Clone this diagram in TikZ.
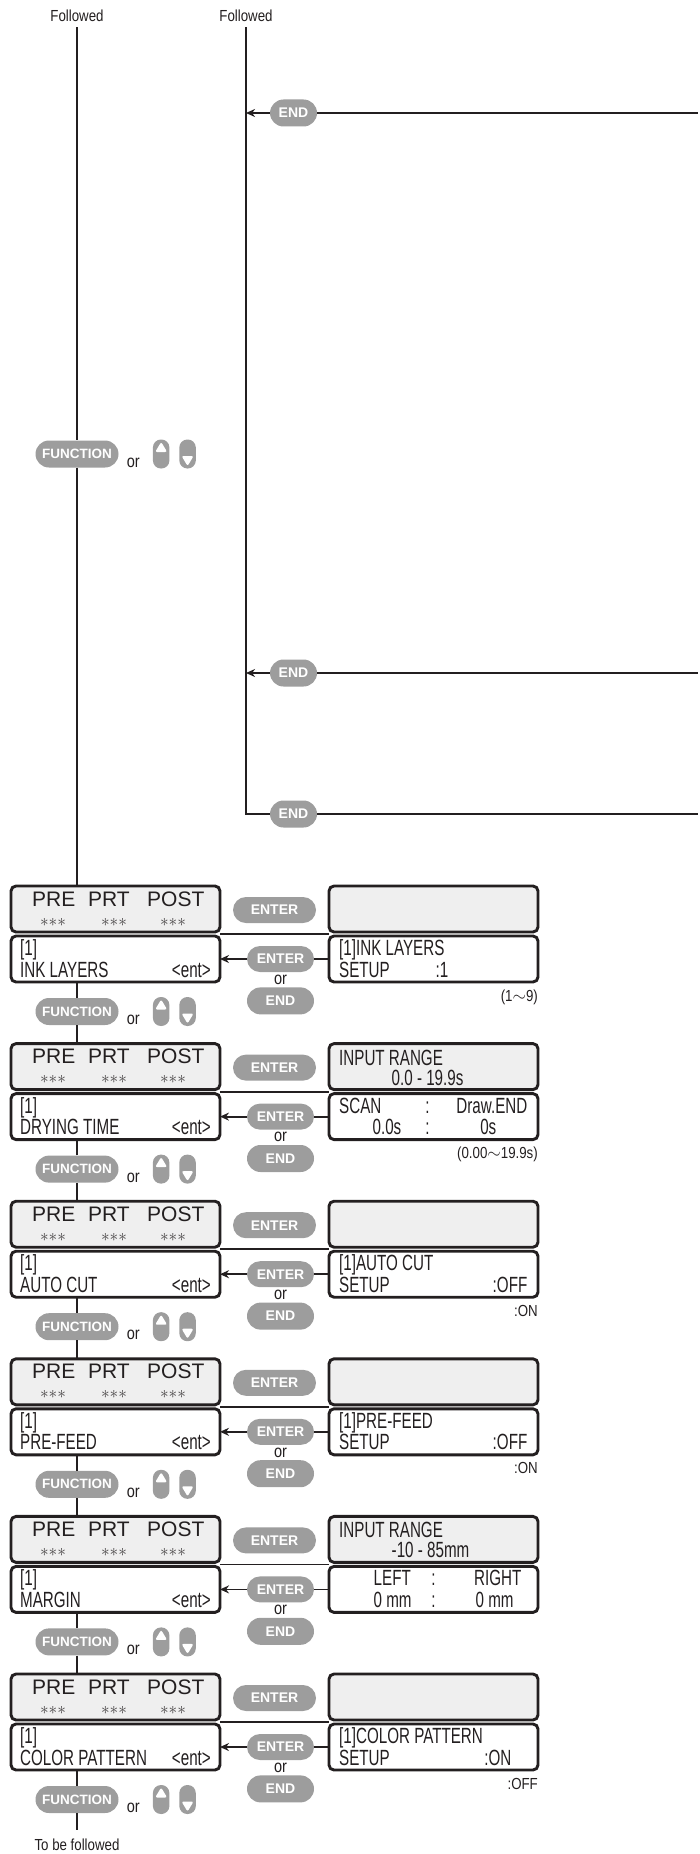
\documentclass[tikz,border=0pt]{standalone}
\usepackage{fontspec}
\setmainfont{Liberation Sans}
\newfontfamily\condfont[FakeStretch=0.69]{Liberation Sans}
\newfontfamily\labfont[FakeStretch=0.83]{Liberation Sans}
\usetikzlibrary{positioning,arrows.meta,shapes.misc}
\definecolor{ink}{RGB}{35,31,32}
\definecolor{keygray}{RGB}{157,157,157}
\definecolor{lcdgray}{RGB}{239,239,239}

\begin{document}
\begin{tikzpicture}[x=1pt, y=-1pt,
    flow/.style={draw=ink, line width=1.8pt},
    arr/.style={flow, -{Stealth[length=9pt, width=8pt]}},
    panel/.style={draw=ink, line width=2.9pt, rounded corners=5pt, fill=white, minimum width=209pt, minimum height=46pt, inner sep=0pt, outer sep=0pt},
    lcd/.style={panel, fill=lcdgray},
    key/.style={rounded rectangle, fill=keygray, text=white, font=\bfseries\fontsize{14}{14}\selectfont, minimum height=26pt, inner sep=0pt},
    fnkey/.style={key, minimum width=83pt, minimum height=27pt, font=\bfseries\fontsize{13.5}{13.5}\selectfont},
    updown/.style={fill=keygray, rounded corners=8pt, minimum width=16.5pt, minimum height=29pt, inner sep=0pt},
    big/.style={font=\fontsize{21}{21}\selectfont, text=ink, inner sep=0pt, anchor=base west},
    lcdtxt/.style={font=\condfont\fontsize{22}{22}\selectfont, text=ink, inner sep=0pt, anchor=base west},
    small/.style={font=\labfont\fontsize{16}{16}\selectfont, text=ink, inner sep=0pt},
    ortxt/.style={small, font=\labfont\fontsize{17.5}{17.5}\selectfont},
    stars/.style={text=ink!85, inner sep=0pt, font=\fontsize{17}{17}\selectfont}
]
\useasboundingbox (0,0) rectangle (699,1854);

% top of the two flows
\node[small, anchor=base, inner ysep=5pt] (fol1) at (77,22) {Followed};
\node[small, anchor=base, inner ysep=5pt] (fol2) at (246,22) {Followed};
\coordinate (rim) at (698,0);

\node[fnkey] (fn0) at (77,454) {FUNCTION};
\node[ortxt, anchor=base west] (orf0) at ([shift={(8,13)}]fn0.east) {or};
\node[updown, right=34pt of fn0] (up0) {};
\node[updown, right=9.5pt of up0] (dn0) {};
\fill[white, rounded corners=2pt] ([shift={(0,-12)}]up0.center) -- ([shift={(6,-2)}]up0.center) -- ([shift={(-6,-2)}]up0.center) -- cycle;
\fill[white, rounded corners=2pt] ([shift={(0,12)}]dn0.center) -- ([shift={(6,2)}]dn0.center) -- ([shift={(-6,2)}]dn0.center) -- cycle;
\draw[flow] (fol1.south) -- (fn0.north);

\node[key, minimum width=47pt, minimum height=27pt] (e1) at (293.5,113) {END};
\node[key, minimum width=47pt, minimum height=27pt] (e2) at (293.5,673) {END};
\node[key, minimum width=47pt, minimum height=27pt] (e3) at (293.5,814) {END};
\draw[flow] (e1.east) -- (e1.east -| rim);
\draw[arr] (e1.west) -- (e1.west -| fol2.south);
\draw[flow] (e2.east) -- (e2.east -| rim);
\draw[arr] (e2.west) -- (e2.west -| fol2.south);
\draw[flow] (fol2.south) -- (fol2.south |- e3.west) -- (e3.west);
\draw[flow] (e3.east) -- (e3.east -| rim);

% the six setting blocks
\foreach \i/\lbl in {1/INK LAYERS,2/DRYING TIME,3/AUTO CUT,4/PRE-FEED,5/MARGIN,6/COLOR PATTERN}{
  \pgfmathsetmacro\ty{885+(\i-1)*157.6}
  \pgfmathtruncatemacro\prev{\i-1}
  \node[lcd] (lu\i) at (115.5,\ty+24) {};
  \node[panel] (ll\i) at (115.5,\ty+74) {};
  \node[lcd] (ru\i) at (433.5,\ty+24) {};
  \node[panel] (rl\i) at (433.5,\ty+74) {};
  \node[big] (pre\i) at ([shift={(21,20)}]lu\i.north west) {PRE};
  \node[big] (prt\i) at ([shift={(77,20)}]lu\i.north west) {PRT};
  \node[big] (post\i) at ([shift={(136,20)}]lu\i.north west) {POST};
  \node[stars] (sa\i) at ([shift={(42,36)}]lu\i.north west) {${\ast}{\ast}{\ast}$};
  \node[stars] (sb\i) at ([shift={(103,36)}]lu\i.north west) {${\ast}{\ast}{\ast}$};
  \node[stars] (sc\i) at ([shift={(162,36)}]lu\i.north west) {${\ast}{\ast}{\ast}$};
  \node[lcdtxt] (idx\i) at ([shift={(9,19.5)}]ll\i.north west) {[1]};
  \node[lcdtxt] (nm\i) at ([shift={(9,41)}]ll\i.north west) {\lbl};
  \node[lcdtxt, anchor=base east] (ent\i) at ([shift={(-9,41)}]ll\i.north east) {<ent>};
  \node[key, minimum width=83pt] (enu\i) at (274.5,\ty+25) {ENTER};
  \node[key, minimum width=67pt] (enl\i) at (280.5,\ty+74) {ENTER};
  \node[ortxt, below=2.5pt of enl\i] (or\i) {or};
  \node[key, minimum width=67pt, minimum height=27pt, below=2.5pt of or\i] (end\i) {END};
  \node[fnkey] (fn\i) at (77,\ty+126.5) {FUNCTION};
  \node[ortxt, anchor=base west] (orf\i) at ([shift={(8,13)}]fn\i.east) {or};
  \node[updown, right=34pt of fn\i] (up\i) {};
  \node[updown, right=9.5pt of up\i] (dn\i) {};
  \fill[white, rounded corners=2pt] ([shift={(0,-12)}]up\i.center) -- ([shift={(6,-2)}]up\i.center) -- ([shift={(-6,-2)}]up\i.center) -- cycle;
  \fill[white, rounded corners=2pt] ([shift={(0,12)}]dn\i.center) -- ([shift={(6,2)}]dn\i.center) -- ([shift={(-6,2)}]dn\i.center) -- cycle;
  \draw[flow] (fn\prev.south) -- (fn\prev.south |- lu\i.north);
  \draw[flow] (fn\i.north) -- (fn\i.north |- ll\i.south);
  \draw[flow] ([yshift=-2pt]lu\i.south east) -- ([yshift=-2pt]ru\i.south west);
  \draw[flow] (rl\i.west) -- (enl\i.east);
  \draw[arr] (enl\i.west) -- (enl\i.west -| ll\i.east);
}

\node[small, anchor=base, inner ysep=8pt] (tbf) at (77,1850) {To be followed};
\draw[flow] (fn6.south) -- (tbf.north);

% right panels
\node[lcdtxt] (r1a) at ([shift={(10,19.5)}]rl1.north west) {[1]INK LAYERS};
\node[lcdtxt] (r1b) at ([shift={(10,41)}]rl1.north west) {SETUP};
\node[lcdtxt] (r1c) at ([shift={(106.5,41)}]rl1.north west) {:1};
\node[small, anchor=base east] (n1) at ([shift={(0,19)}]rl1.south east) {(1$\sim$9)};

\node[lcdtxt] (r2a) at ([shift={(10,21.5)}]ru2.north west) {INPUT RANGE};
\node[lcdtxt] (r2b) at ([shift={(62.5,41.5)}]ru2.north west) {0.0 - 19.9s};
\node[lcdtxt] (r2c) at ([shift={(10,19.5)}]rl2.north west) {SCAN};
\node[lcdtxt, anchor=base] (r2d) at ([shift={(98.5,19.5)}]rl2.north west) {:};
\node[lcdtxt, anchor=base east] (r2e) at ([shift={(-10.5,19.5)}]rl2.north east) {Draw.END};
\node[lcdtxt, anchor=base east] (r2f) at ([shift={(72.5,41)}]rl2.north west) {0.0s};
\node[lcdtxt, anchor=base] (r2g) at ([shift={(98.5,41)}]rl2.north west) {:};
\node[lcdtxt, anchor=base east] (r2h) at ([shift={(-41.5,41)}]rl2.north east) {0s};
\node[small, anchor=base east] (n2) at ([shift={(0,19)}]rl2.south east) {(0.00$\sim$19.9s)};

\node[lcdtxt] (r3a) at ([shift={(10,19.5)}]rl3.north west) {[1]AUTO CUT};
\node[lcdtxt] (r3b) at ([shift={(10,41)}]rl3.north west) {SETUP};
\node[lcdtxt, anchor=base east] (r3c) at ([shift={(-10.5,41)}]rl3.north east) {:OFF};
\node[small, anchor=base east] (n3) at ([shift={(0,19)}]rl3.south east) {:ON};

\node[lcdtxt] (r4a) at ([shift={(10,19.5)}]rl4.north west) {[1]PRE-FEED};
\node[lcdtxt] (r4b) at ([shift={(10,41)}]rl4.north west) {SETUP};
\node[lcdtxt, anchor=base east] (r4c) at ([shift={(-10.5,41)}]rl4.north east) {:OFF};
\node[small, anchor=base east] (n4) at ([shift={(0,19)}]rl4.south east) {:ON};

\node[lcdtxt] (r5a) at ([shift={(10,21.5)}]ru5.north west) {INPUT RANGE};
\node[lcdtxt] (r5b) at ([shift={(62.5,41.5)}]ru5.north west) {-10 - 85mm};
\node[lcdtxt] (r5c) at ([shift={(44.5,19.5)}]rl5.north west) {LEFT};
\node[lcdtxt, anchor=base] (r5d) at ([shift={(0,19.5)}]rl5.north) {:};
\node[lcdtxt, anchor=base east] (r5e) at ([shift={(-16.5,19.5)}]rl5.north east) {RIGHT};
\node[lcdtxt] (r5f) at ([shift={(44.5,41)}]rl5.north west) {0 mm};
\node[lcdtxt, anchor=base] (r5g) at ([shift={(0,41)}]rl5.north) {:};
\node[lcdtxt] (r5h) at ([shift={(146.5,41)}]rl5.north west) {0 mm};

\node[lcdtxt] (r6a) at ([shift={(10,19.5)}]rl6.north west) {[1]COLOR PATTERN};
\node[lcdtxt] (r6b) at ([shift={(10,41)}]rl6.north west) {SETUP};
\node[lcdtxt, anchor=base east] (r6c) at ([shift={(-26.5,41)}]rl6.north east) {:ON};
\node[small, anchor=base east] (n6) at ([shift={(0,19)}]rl6.south east) {:OFF};
\end{tikzpicture}
\end{document}
